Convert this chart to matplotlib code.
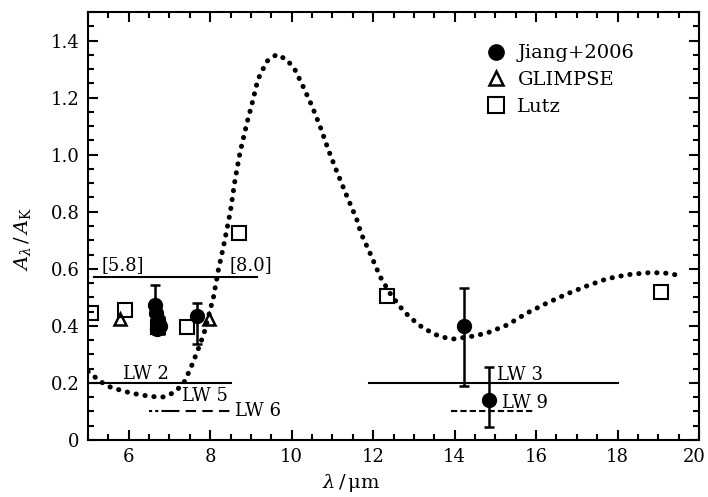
import numpy as np
from matplotlib import pyplot as plt
from matplotlib.ticker import MultipleLocator
import matplotlib.transforms as mtransforms

plt.rcParams['font.family'] = ['DejaVu Serif']
plt.rcParams['mathtext.fontset'] = 'dejavuserif'

# extinction curve
curve_x = [5.0, 5.05, 5.3, 5.54, 5.9, 6.28, 6.6, 6.84, 7.0, 7.18, 7.35, 7.5, 7.6, 7.75,
           7.85, 7.97, 8.08, 8.2, 8.32, 8.49, 8.61, 8.73, 8.9, 9.03, 9.17, 9.39, 9.63,
           9.88, 10.08, 10.28, 10.5, 10.7, 10.9, 11.11, 11.36, 11.6, 11.7, 11.92, 12.17,
           12.41, 12.66, 12.9, 13.23, 13.64, 13.97, 14.38, 14.8, 15.29, 15.78, 16.27,
           16.76, 17.25, 17.74, 18.23, 18.72, 19.12, 19.6]
curve_y = [0.24, 0.235, 0.205, 0.186, 0.17, 0.158, 0.152, 0.151, 0.158, 0.175, 0.2, 0.245,
           0.28, 0.335, 0.375, 0.44, 0.5, 0.596, 0.674, 0.796, 0.912, 1.006, 1.11, 1.18,
           1.263, 1.327, 1.351, 1.333, 1.298, 1.239, 1.17, 1.098, 1.017, 0.94, 0.853,
           0.772, 0.725, 0.656, 0.573, 0.515, 0.467, 0.43, 0.392, 0.362, 0.354, 0.362,
           0.375, 0.403, 0.445, 0.48, 0.512, 0.54, 0.565, 0.579, 0.586, 0.586, 0.575]

# Jiang+2006
jiang_x = [6.64, 6.68, 6.72, 6.76, 6.70, 7.68, 14.23, 14.85]
jiang_y = [0.474, 0.445, 0.42, 0.40, 0.39, 0.435, 0.40, 0.14]
jiang_lo = [0.07, 0.03, 0.03, 0.03, 0.02, 0.10, 0.21, 0.095]
jiang_hi = [0.07, 0.03, 0.03, 0.03, 0.02, 0.045, 0.133, 0.115]

# GLIMPSE
glimpse_x = [5.79, 7.98]
glimpse_y = [0.425, 0.425]

# Lutz
lutz_x = [5.08, 5.92, 6.72, 7.43, 8.7, 12.33, 19.07]
lutz_y = [0.445, 0.457, 0.395, 0.397, 0.725, 0.503, 0.52]

# filter bands: (x0, x1, y, style, label, label_x, label_y)
bands = [
    (5.15, 9.15, 0.57, '-', '[5.8]', 5.34, 0.614),
    (None, None, None, None, '[8.0]', 8.47, 0.614),
    (5.0, 8.5, 0.2, '-', 'LW 2', 5.86, 0.232),
    (6.5, 7.0, 0.1, (0, (1.5, 1.5, 1.5, 1.5, 5, 1.5)), 'LW 5', 7.31, 0.153),
    (7.0, 8.5, 0.1, (0, (5, 3)), 'LW 6', 8.61, 0.10),
    (11.9, 18.0, 0.2, '-', 'LW 3', 15.04, 0.228),
    (13.9, 15.95, 0.1, (0, (3, 1.5)), 'LW 9', 15.16, 0.13),
]

fig = plt.figure(figsize=(7.08, 4.97), dpi=100)
ax = fig.add_axes([0.1243, 0.1147, 0.863, 0.8612])

ax.plot(curve_x, curve_y, color='black', linewidth=3.6,
        linestyle=(0, (0.05, 1.75)), dash_capstyle='round')

for x0, x1, y, ls, lab, lx, ly in bands:
    if x0 is not None:
        ax.plot([x0, x1], [y, y], color='black', linewidth=1.5, linestyle=ls)
    ax.text(lx, ly, lab, fontsize=13, ha='left', va='center')

ax.errorbar(jiang_x, jiang_y, yerr=[jiang_lo, jiang_hi], fmt='none', ecolor='black',
            elinewidth=1.8, capsize=3.5, capthick=1.8, zorder=5)
ax.plot(jiang_x, jiang_y, 'o', color='black', markersize=10, label='Jiang+2006', zorder=5)
ax.plot(glimpse_x, glimpse_y, '^', markersize=9, markerfacecolor='none',
        markeredgecolor='black', markeredgewidth=1.8, label='GLIMPSE', zorder=6)
ax.plot(lutz_x, lutz_y, 's', markersize=10, markerfacecolor='none',
        markeredgecolor='black', markeredgewidth=1.5, label='Lutz', zorder=6)

ax.set_xlim(5, 20)
ax.set_ylim(0, 1.5)
ax.xaxis.set_minor_locator(MultipleLocator(0.5))
ax.yaxis.set_minor_locator(MultipleLocator(0.05))
ax.set_xticks([6, 8, 10, 12, 14, 16, 18, 20])
ax.set_yticks([0, 0.2, 0.4, 0.6, 0.8, 1.0, 1.2, 1.4])
ax.set_yticklabels(['0', '0.2', '0.4', '0.6', '0.8', '1.0', '1.2', '1.4'])
ax.tick_params(which='both', direction='in', top=True, right=True, labelsize=13, width=1.5)
ax.tick_params(which='major', length=7, pad=6)
ax.tick_params(which='minor', length=4)
for s in ax.spines.values():
    s.set_linewidth(1.5)

# the last x label sits at the figure edge; nudge it in a bit
last = ax.get_xticklabels()[-1]
last.set_transform(last.get_transform() +
                   mtransforms.ScaledTranslation(-5 / 100, 0, fig.dpi_scale_trans))

ax.set_xlabel(r'$\lambda\,/\,\mathrm{\mu m}$', fontsize=14)
ax.xaxis.set_label_coords(0.43, -0.075)
ax.set_ylabel(r'$A_\lambda\,/\,A_\mathrm{K}$', fontsize=14)
ax.yaxis.set_label_coords(-0.09, 0.47)

ax.legend(loc='upper left', bbox_to_anchor=(0.62, 0.965), frameon=False, fontsize=14,
          handletextpad=0.5, labelspacing=0.45, handlelength=1.2, numpoints=1,
          markerscale=1.1)

fig.savefig('out.png', dpi=100)
